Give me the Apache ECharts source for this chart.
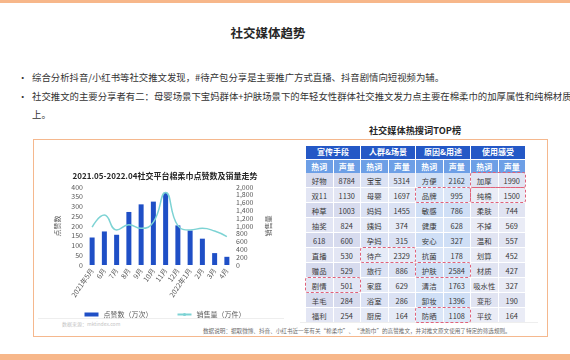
<!DOCTYPE html>
<html>
<head>
<meta charset="utf-8">
<script src="https://cdn.jsdelivr.net/npm/echarts@6/dist/echarts.min.js"></script>
<style>
  body { margin: 0; width: 570px; height: 360px; overflow: hidden; background: #fff;
         font-family: "Noto Sans CJK SC", sans-serif; position: relative; color: #262626; }
  .abs { position: absolute; }
  .bar { left: 0; width: 570px; background: #f7b78a; }
  .title { left: 218px; width: 100px; top: 24px; text-align: center; font-size: 12.5px; font-weight: bold; line-height: 18px; }
  .bullet { left: 18px; font-size: 9.4px; line-height: 18px; white-space: nowrap; color: #333; }
  .bullet span { position: absolute; left: 14px; top: 0; }
  .box { left: 33px; top: 139px; width: 513px; height: 196px; border: 1.5px solid #f5b88e; }
  .tblTitle { left: 340px; width: 150px; top: 123px; text-align: center; font-size: 9.2px; font-weight: bold; line-height: 14px; }
  .cell { position: absolute; text-align: center; font-size: 7.4px; color: #3a3a3a; overflow: hidden; white-space: nowrap; }
  .head1 { background: #2458c6; color: #fff; font-weight: bold; font-size: 8px; }
  .head2 { background: #6d9fe6; color: #fff; font-weight: bold; font-size: 8px; }
  .mark { position: absolute; border: 1.2px dashed #e0627a; border-radius: 3px; box-sizing: border-box; }
  .note { font-size: 5.6px; color: #6b6b6b; white-space: nowrap; line-height: 8px; }
</style>
</head>
<body>
<div class="abs bar" style="top:0;height:3px"></div>
<div class="abs bar" style="top:354px;height:6px"></div>
<div class="abs title">社交媒体趋势</div>
<div class="abs bullet" style="top:68px">•<span>综合分析抖音/小红书等社交推文发现，#待产包分享是主要推广方式直播、抖音剧情向短视频为辅。</span></div>
<div class="abs bullet" style="top:87px">•<span>社交推文的主要分享者有二：母婴场景下宝妈群体+护肤场景下的年轻女性群体社交推文发力点主要在棉柔巾的加厚属性和纯棉材质<br>上。</span></div>
<div class="abs box"></div>
<div class="abs tblTitle">社交媒体热搜词TOP榜</div>
<div class="abs" style="left:38px;top:318px;width:246px;height:1px;background:#eeeeee"></div>
<div class="abs" style="left:300px;top:322px;width:238px;height:1px;background:#eeeeee"></div>
<div class="abs note" style="left:62px;top:320px;color:#c4c4c4;font-size:5px">数据来源：mktindex.com</div>
<div class="abs note" style="left:203px;top:327px">数据说明：据取微博、抖音、小红书近一年有关“棉柔巾”、“洗脸巾”的高赞推文，并对推文原文使用了特定的筛选规则。</div>
<div id="chart" class="abs" style="left:36px;top:160px;width:258px;height:170px"></div>
<div id="table" class="abs" style="left:0;top:0"></div>
<script>
// 折线柱状图数据
let chartTitle = '2021.05-2022.04社交平台棉柔巾点赞数及销量走势';
let months = ['2021年5月', '6月', '7月', '8月', '9月', '10月', '11月', '12月', '2022年1月', '2月', '3月', '4月'];
let likes = [141, 172, 155, 272, 311, 325, 370, 203, 177, 135, 61, 42];
let sales = [970, 1280, 900, 1030, 940, 1100, 1860, 1010, 900, 940, 870, 730];

// 热搜词表格数据
let groups = ['宣传手段', '人群&场景', '原因&用途', '使用感受'];
let subHeads = ['热词', '声量'];
let promoWords = ['好物', '双11', '种草', '抽奖', '618', '直播', '赠品', '剧情', '羊毛', '福利'];
let promoVols = [8784, 1130, 1003, 824, 600, 530, 529, 501, 284, 254];
let crowdWords = ['宝宝', '母婴', '妈妈', '姨妈', '孕妈', '待产', '旅行', '家庭', '浴室', '厨房'];
let crowdVols = [5314, 1697, 1455, 374, 315, 2329, 886, 629, 286, 164];
let reasonWords = ['方便', '品牌', '敏感', '健康', '安心', '抗菌', '护肤', '清洁', '卸妆', '防晒'];
let reasonVols = [2162, 995, 786, 628, 327, 178, 2584, 1763, 1396, 1108];
let feelWords = ['加厚', '纯棉', '柔肤', '不掉', '温和', '划算', '材质', '吸水性', '变形', '平纹'];
let feelVols = [1990, 1500, 744, 569, 557, 452, 427, 327, 190, 164];
// 红框标注 [行, 分组]
let marks = [[0, 3], [1, 2], [1, 3], [5, 1], [6, 2], [7, 0], [9, 2]];

let tableWords = [promoWords, crowdWords, reasonWords, feelWords];
let tableVols = [promoVols, crowdVols, reasonVols, feelVols];

function buildTable () {
  let box = document.getElementById('table');
  let x0 = 306, y0 = 146, colW = 27.5, h1 = 12.5, h2 = 13.5, rowH = 15;
  let shades = [['#d7dbee', '#e3e6f4'], ['#dbe2f4', '#e6ebf7'], ['#cfdff6', '#dce7f8'], ['#e1e4f2', '#eaecf6']];
  let html = '';
  groups.forEach((g, gi) => {
    html += `<div class="cell head1" style="left:${x0 + gi * colW * 2}px;top:${y0}px;width:${colW * 2 - 1}px;height:${h1}px;line-height:${h1}px">${g}</div>`;
    subHeads.forEach((s, si) => {
      html += `<div class="cell head2" style="left:${x0 + (gi * 2 + si) * colW}px;top:${y0 + h1 + 1}px;width:${colW - 1}px;height:${h2}px;line-height:${h2}px">${s}</div>`;
    });
    tableWords[gi].forEach((w, ri) => {
      let top = y0 + h1 + h2 + 1 + ri * rowH;
      let bg = shades[gi][ri % 2];
      html += `<div class="cell" style="left:${x0 + gi * 2 * colW}px;top:${top}px;width:${colW - 1}px;height:${rowH - 1}px;line-height:${rowH}px;background:${bg}">${w}</div>`;
      html += `<div class="cell" style="left:${x0 + (gi * 2 + 1) * colW}px;top:${top}px;width:${colW - 1}px;height:${rowH - 1}px;line-height:${rowH}px;background:${bg}">${tableVols[gi][ri]}</div>`;
    });
  });
  marks.forEach((m) => {
    let top = y0 + h1 + h2 + 1 + m[0] * rowH;
    html += `<div class="mark" style="left:${x0 + m[1] * 2 * colW - 1}px;top:${top - 1}px;width:${colW * 2 + 1}px;height:${rowH + 1}px"></div>`;
  });
  box.innerHTML = html;
}
buildTable();

let charts = echarts.init(document.getElementById('chart'));
let labelStyle = {fontSize: 7, color: '#595959'};
charts.setOption({
  textStyle: {fontFamily: 'Noto Sans CJK SC'},
  title: {
    text: chartTitle, left: 'center', top: 7,
    textStyle: {fontSize: 8, fontWeight: 'bold', color: '#262626'}
  },
  legend: {
    top: 146, left: 'center', itemGap: 24, itemWidth: 14, itemHeight: 4,
    textStyle: labelStyle,
    data: [{name: '点赞数（万次）', icon: 'rect'}, {name: '销售量（万件）'}]
  },
  grid: {left: 50, right: 61, top: 27, bottom: 65},
  xAxis: {
    type: 'category', data: months,
    axisTick: {show: false}, axisLine: {show: false},
    axisLabel: Object.assign({rotate: 55, interval: 0, margin: 4}, labelStyle)
  },
  yAxis: [
    {
      type: 'value', min: 0, max: 400, interval: 50,
      name: '点赞数', nameLocation: 'middle', nameGap: 24, nameTextStyle: labelStyle,
      splitLine: {show: false}, axisLabel: Object.assign({margin: 3}, labelStyle)
    },
    {
      type: 'value', min: 0, max: 2000, interval: 200, position: 'right',
      name: '销售量', nameLocation: 'middle', nameGap: 27, nameTextStyle: labelStyle,
      splitLine: {show: false}, axisLabel: Object.assign({margin: 3}, labelStyle)
    }
  ],
  series: [
    {
      name: '点赞数（万次）', type: 'bar', data: likes, barWidth: 5,
      itemStyle: {color: '#1f4fc6'}
    },
    {
      name: '销售量（万件）', type: 'line', yAxisIndex: 1, data: sales,
      smooth: true, symbol: 'none',
      lineStyle: {color: '#7dd3d4', width: 1.5}, itemStyle: {color: '#7dd3d4'}
    }
  ]
});
</script>
</body>
</html>
